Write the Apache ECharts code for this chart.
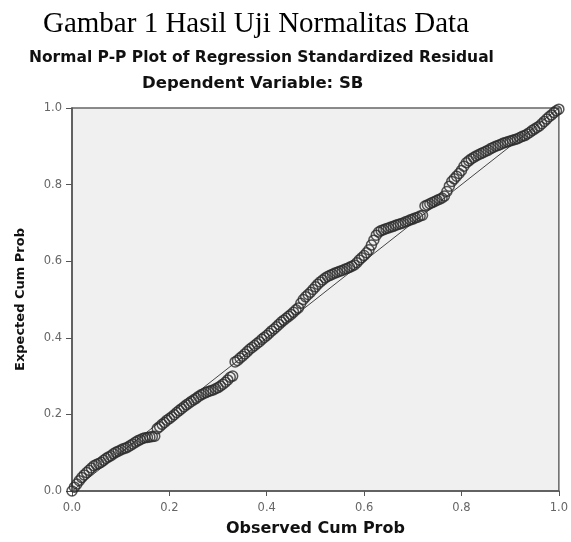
<!DOCTYPE html>
<html>
<head>
<meta charset="utf-8">
<script src="https://cdn.jsdelivr.net/npm/echarts@6/dist/echarts.min.js"></script>
<style>html,body{margin:0;padding:0;background:#fff;}#c{width:571px;height:542px;}</style>
</head>
<body>
<div id="c"></div>
<script>
// Observed cumulative probability (x)
var observed = [
  0.000,0.005,0.010,0.015,0.020,0.025,0.030,0.035,0.040,0.045,
  0.050,0.055,0.060,0.065,0.070,0.075,0.080,0.085,0.090,0.095,
  0.100,0.105,0.110,0.115,0.120,0.125,0.130,0.135,0.140,0.145,
  0.150,0.155,0.160,0.165,0.170,0.175,0.180,0.185,0.190,0.195,
  0.200,0.205,0.210,0.215,0.220,0.225,0.230,0.235,0.240,0.245,
  0.250,0.255,0.260,0.265,0.270,0.275,0.280,0.285,0.290,0.295,
  0.300,0.305,0.310,0.315,0.320,0.325,0.330,0.335,0.340,0.345,
  0.350,0.355,0.360,0.365,0.370,0.375,0.380,0.385,0.390,0.395,
  0.400,0.405,0.410,0.415,0.420,0.425,0.430,0.435,0.440,0.445,
  0.450,0.455,0.460,0.465,0.470,0.475,0.480,0.485,0.490,0.495,
  0.500,0.505,0.510,0.515,0.520,0.525,0.530,0.535,0.540,0.545,
  0.550,0.555,0.560,0.565,0.570,0.575,0.580,0.585,0.590,0.595,
  0.600,0.605,0.610,0.615,0.620,0.625,0.630,0.635,0.640,0.645,
  0.650,0.655,0.660,0.665,0.670,0.675,0.680,0.685,0.690,0.695,
  0.700,0.705,0.710,0.715,0.720,0.725,0.730,0.735,0.740,0.745,
  0.750,0.755,0.760,0.765,0.770,0.775,0.780,0.785,0.790,0.795,
  0.800,0.805,0.810,0.815,0.820,0.825,0.830,0.835,0.840,0.845,
  0.850,0.855,0.860,0.865,0.870,0.875,0.880,0.885,0.890,0.895,
  0.900,0.905,0.910,0.915,0.920,0.925,0.930,0.935,0.940,0.945,
  0.950,0.955,0.960,0.965,0.970,0.975,0.980,0.985,0.990,0.995,1.000];
// Expected cumulative probability (y)
var expected = [
  0.000,0.010,0.018,0.027,0.035,0.042,0.048,0.054,0.060,0.066,
  0.069,0.072,0.075,0.080,0.085,0.089,0.092,0.097,0.101,0.104,
  0.107,0.110,0.112,0.115,0.119,0.123,0.127,0.131,0.134,0.137,
  0.139,0.140,0.141,0.142,0.143,0.163,0.168,0.174,0.179,0.185,
  0.189,0.194,0.199,0.205,0.210,0.215,0.220,0.225,0.229,0.234,
  0.238,0.242,0.247,0.251,0.254,0.257,0.260,0.262,0.264,0.267,
  0.270,0.274,0.279,0.284,0.290,0.297,0.300,0.337,0.341,0.347,
  0.352,0.358,0.364,0.370,0.375,0.380,0.385,0.390,0.396,0.401,
  0.406,0.412,0.418,0.423,0.429,0.435,0.441,0.446,0.451,0.456,
  0.461,0.467,0.473,0.478,0.490,0.500,0.507,0.513,0.519,0.526,
  0.533,0.540,0.546,0.551,0.556,0.560,0.563,0.566,0.569,0.571,
  0.574,0.576,0.579,0.581,0.584,0.587,0.590,0.596,0.603,0.609,
  0.615,0.622,0.630,0.642,0.655,0.668,0.676,0.680,0.682,0.685,
  0.687,0.689,0.691,0.694,0.696,0.698,0.700,0.703,0.705,0.708,
  0.710,0.713,0.715,0.718,0.720,0.744,0.747,0.750,0.753,0.756,
  0.759,0.762,0.765,0.770,0.782,0.796,0.808,0.815,0.822,0.829,
  0.837,0.848,0.857,0.862,0.867,0.871,0.875,0.878,0.881,0.884,
  0.887,0.890,0.894,0.897,0.900,0.902,0.905,0.908,0.910,0.912,
  0.914,0.916,0.918,0.920,0.923,0.926,0.928,0.932,0.936,0.941,
  0.945,0.949,0.953,0.959,0.965,0.971,0.977,0.982,0.988,0.993,0.997];
var diagonal = [[0,0],[1,1]];
var tickLabels = ['0.0','0.2','0.4','0.6','0.8','1.0'];

var titleText = 'Gambar 1 Hasil Uji Normalitas Data';
var chartTitle = 'Normal P-P Plot of Regression Standardized Residual';
var chartSubtitle = 'Dependent Variable: SB';
var xName = 'Observed Cum Prob';
var yName = 'Expected Cum Prob';

var pts = observed.map(function(v, i){ return [v, expected[i]]; });
var sans = 'DejaVu Sans';

var chart = echarts.init(document.getElementById('c'), null, {renderer: 'canvas'});
chart.setOption({
  backgroundColor: '#ffffff',
  animation: false,
  title: [
    {text: titleText, left: 43, top: 10, padding: 0, textStyle: {fontFamily: 'Liberation Serif', fontSize: 29, fontWeight: 'normal', color: '#000'}},
    {text: chartTitle, left: 29, top: 50, padding: 0, textStyle: {fontFamily: sans, fontSize: 15.5, fontWeight: 'bold', color: '#111'}},
    {text: chartSubtitle, left: 142, top: 75, padding: 0, textStyle: {fontFamily: sans, fontSize: 16.5, fontWeight: 'bold', color: '#111'}}
  ],
  grid: {left: 72, right: 9, top: 108, bottom: 47, show: true, backgroundColor: '#f0f0f0', borderColor: '#666', borderWidth: 1.5},
  xAxis: {
    type: 'value', min: 0, max: 1, interval: 0.2,
    name: xName, nameLocation: 'middle', nameGap: 30,
    nameTextStyle: {fontFamily: sans, fontSize: 16, fontWeight: 'bold', color: '#111'},
    axisLine: {show: true, lineStyle: {color: '#555', width: 1.5}},
    axisTick: {show: true, length: 5, lineStyle: {color: '#555'}},
    axisLabel: {fontFamily: sans, fontSize: 11.5, color: '#666', margin: 11,
      formatter: function(v){ return tickLabels[Math.round(v / 0.2)]; }},
    splitLine: {show: false}
  },
  yAxis: {
    type: 'value', min: 0, max: 1, interval: 0.2,
    name: yName, nameLocation: 'middle', nameGap: 45,
    nameTextStyle: {fontFamily: sans, fontSize: 13, fontWeight: 'bold', color: '#111'},
    axisLine: {show: true, lineStyle: {color: '#555', width: 1.5}},
    axisTick: {show: true, length: 6, lineStyle: {color: '#555'}},
    axisLabel: {fontFamily: sans, fontSize: 11.5, color: '#666', margin: 10,
      formatter: function(v){ return tickLabels[Math.round(v / 0.2)]; }},
    splitLine: {show: false}
  },
  series: [
    {type: 'line', data: diagonal, symbol: 'none', lineStyle: {color: '#444', width: 1}, silent: true, z: 1},
    {type: 'scatter', data: pts, symbol: 'circle', symbolSize: 10,
      itemStyle: {color: 'rgba(0,0,0,0)', borderColor: '#2a2a2a', borderWidth: 1.5}, z: 2}
  ]
});
</script>
</body>
</html>
